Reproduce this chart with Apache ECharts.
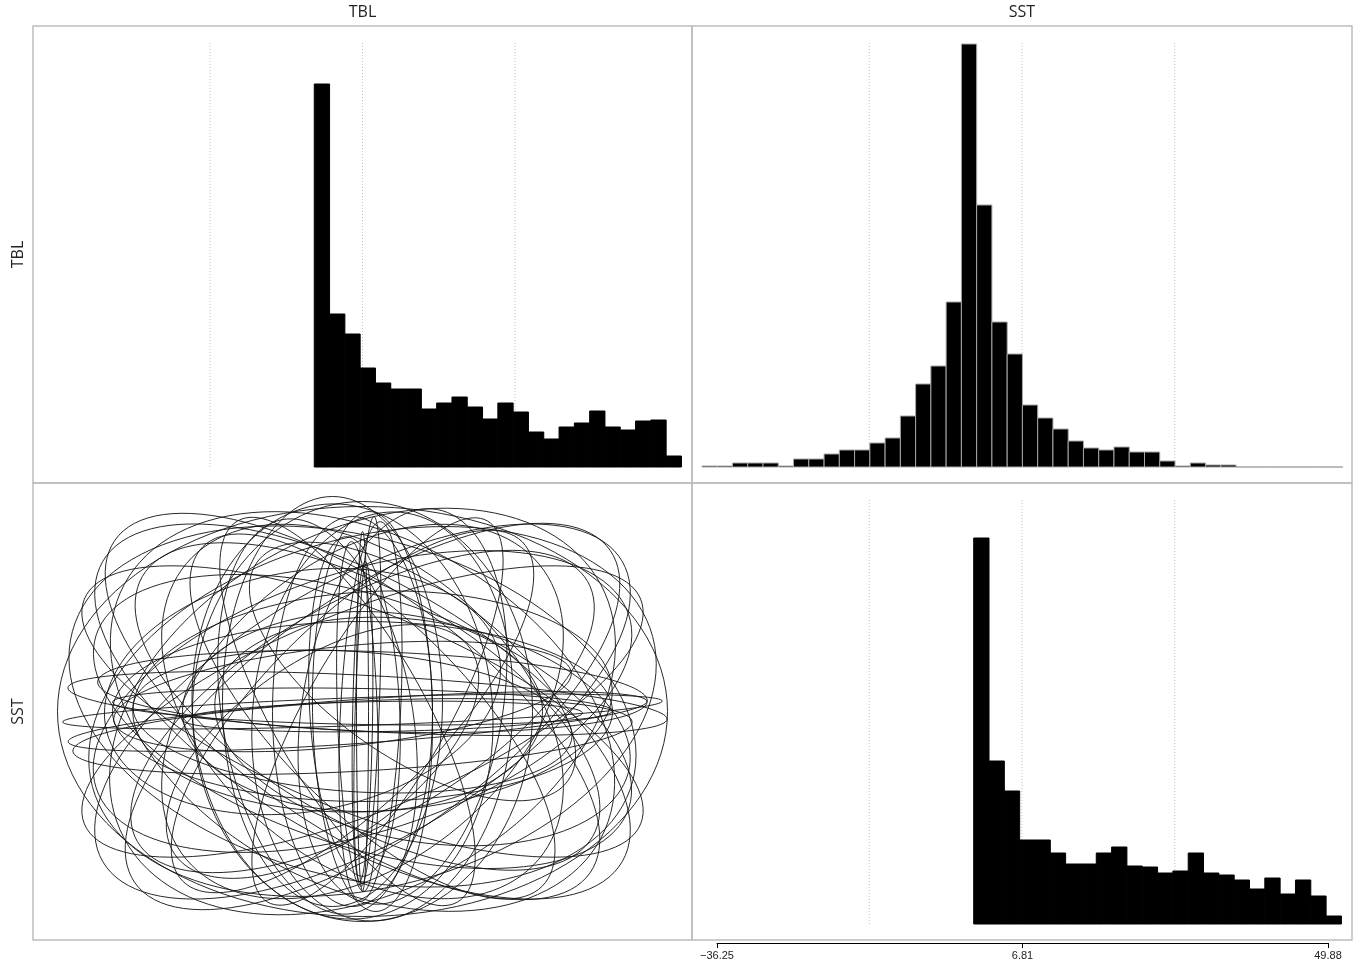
<!DOCTYPE html>
<html><head><meta charset="utf-8">
<script src="https://cdn.jsdelivr.net/npm/echarts@6/dist/echarts.min.js"></script>
<style>html,body{margin:0;padding:0;background:#fff}#c{width:1360px;height:969px}</style>
</head><body><div id="c"></div><script>
// ---- data ----
const variables = ['TBL', 'SST'];
// histogram of TBL (diagonal, top-left)
const tblBinStart = 0, tblBinWidth = 2.16;
const tblCounts = [383, 153, 133, 99, 84, 78, 78, 58, 64, 70, 60, 48, 64, 55, 35, 28, 40, 44, 56, 40, 37, 46, 47, 11];
// histogram of SST (diagonal, bottom-right)
const sstBinStart = 0, sstBinWidth = 2.16;
const sstCounts = [386, 163, 133, 84, 84, 71, 60, 60, 71, 77, 58, 57, 51, 53, 71, 51, 49, 44, 35, 46, 30, 44, 28, 8];
// histogram in the upper off-diagonal panel
const diffBinStart = -38.30, diffBinWidth = 2.151;
const diffCounts = [1, 1, 4, 4, 4, 1, 8, 8, 13, 17, 17, 24, 29, 51, 83, 101, 165, 423, 262, 145, 113, 62, 49, 38, 26, 19, 17, 20, 15, 15, 6, 1, 4, 2, 2, 0, 0, 0, 0, 0, 0, 0];
// dotted reference lines
const refLineValues = [-14.72, 6.81, 28.345];
const refLineTop = 424;
// bottom axis ticks
const tickValues = [-36.25, 6.81, 49.88];
const tickLabels = ['\u221236.25', '6.81', '49.88'];
// ellipses in the lower off-diagonal panel: centre, semi-axes, rotation (deg)
const ellCx    = [0, 5, -5, 10, -10, 0, 20, -20,   0, 5, -5, 8, -8, 0, 10, -10,   -30, 20, -20, 40, -45, 0,   0, 5, -10, 10, 0, 0, 15, -15, 0, 0,   0, 0, 0, 10, -10, 10, -10, 0, 0, 0, 0,   0, 10, -10, 0,   -60, 60, -40, 50];
const ellCy    = [0, 8, -10, 20, -25, 5, -5, 15,   0, 10, -5, 0, 5, -10, 0, 0,   10, -5, 0, 5, -5, 0,   0, 5, 0, -5, 10, -10, 0, 0, 0, 0,   0, 0, 0, -5, 5, 0, 5, 0, 0, 0, 0,   0, 10, -10, 0,   20, -20, -40, 40];
const ellA     = [300, 300, 290, 275, 280, 250, 200, 230,   180, 185, 175, 190, 170, 160, 200, 195,   205, 205, 208, 200, 200, 210,   260, 260, 240, 240, 280, 280, 220, 220, 230, 230,   305, 300, 300, 290, 290, 290, 290, 270, 270, 300, 300,   250, 240, 220, 180,   200, 210, 180, 190];
const ellB     = [14, 28, 22, 40, 35, 18, 15, 50,   6, 12, 20, 30, 45, 10, 60, 80,   110, 130, 150, 100, 95, 170,   110, 115, 90, 95, 130, 125, 70, 75, 150, 150,   205, 130, 130, 120, 120, 175, 170, 180, 175, 100, 100,   90, 110, 70, 100,   120, 110, 90, 85];
const ellAngle = [2, -3, 4, -2, 3, -1, 1, 6,   90, 88, 92, 87, 93, 89, 91, 90,   90, 85, 95, 80, 100, 90,   30, -30, 45, -45, 18, -18, 60, -60, 40, -40,   0, 30, -30, 35, -35, 15, -15, 28, -28, 22, -22,   0, 3, -4, 0,   10, -10, 35, -35];

// ---- helpers ----
const colMin = -39.71, colMax = 53.33;
const frameColor = '#bdbdbd';
function bins(start, width, counts) { return counts.map((c, i) => [start + i * width, start + (i + 1) * width, c]); }
function histSeries(idx, data, stroke, lw) {
  return {
    type: 'custom', xAxisIndex: idx, yAxisIndex: idx, data, z: 3, silent: true,
    encode: { x: [0, 1], y: 2 },
    renderItem(params, api) {
      const a = api.coord([api.value(0), 0]);
      const b = api.coord([api.value(1), api.value(2)]);
      return { type: 'rect', shape: { x: a[0], y: b[1], width: b[0] - a[0], height: a[1] - b[1] },
        style: { fill: '#000', stroke: stroke, lineWidth: lw } };
    }
  };
}
function refSeries(idx) {
  return {
    type: 'custom', xAxisIndex: idx, yAxisIndex: idx, z: 1, silent: true,
    data: refLineValues.map(v => [v, refLineTop]), encode: { x: 0, y: 1 },
    renderItem(params, api) {
      const a = api.coord([api.value(0), 0]);
      const b = api.coord([api.value(0), api.value(1)]);
      return { type: 'line', shape: { x1: a[0], y1: a[1], x2: b[0], y2: b[1] },
        style: { stroke: '#c2c2c2', lineWidth: 1, lineDash: [1, 2] } };
    }
  };
}
const ellData = ellCx.map((c, i) => [c, ellCy[i], ellA[i], ellB[i], ellAngle[i]]);

const grids = [
  { left: 33, top: 26, width: 659, height: 457 },
  { left: 692, top: 26, width: 660, height: 457 },
  { left: 33, top: 483, width: 659, height: 457 },
  { left: 692, top: 483, width: 660, height: 457 },
  { left: 717, top: 903, width: 611, height: 40 }
].map((g, i) => Object.assign({ show: i < 4, borderColor: frameColor, borderWidth: 1.5, backgroundColor: 'transparent' }, g));

const hidden = { show: false };
const xAxes = [
  Object.assign({ gridIndex: 0, type: 'value', min: colMin, max: colMax }, hidden),
  Object.assign({ gridIndex: 1, type: 'value', min: colMin, max: colMax }, hidden),
  Object.assign({ gridIndex: 2, type: 'value', min: -329.5, max: 329.5 }, hidden),
  Object.assign({ gridIndex: 3, type: 'value', min: colMin, max: colMax }, hidden),
  { gridIndex: 4, type: 'value', min: tickValues[0], max: tickValues[2], position: 'bottom',
    axisLine: { show: true, lineStyle: { color: '#000', width: 1 } },
    axisTick: { show: true, length: 5, customValues: tickValues, lineStyle: { color: '#000' } },
    axisLabel: { show: true, customValues: tickValues, fontSize: 11, color: '#222', margin: 7,
      fontFamily: 'Liberation Sans',
      formatter: v => { const i = tickValues.findIndex(t => Math.abs(t - v) < 1e-6); return i >= 0 ? tickLabels[i] : ''; } },
    splitLine: { show: false } }
];
const yAxes = [
  Object.assign({ gridIndex: 0, type: 'value', min: -16, max: 441 }, hidden),
  Object.assign({ gridIndex: 1, type: 'value', min: -16, max: 441 }, hidden),
  Object.assign({ gridIndex: 2, type: 'value', min: -228.5, max: 228.5 }, hidden),
  Object.assign({ gridIndex: 3, type: 'value', min: -16, max: 441 }, hidden),
  Object.assign({ gridIndex: 4, type: 'value', min: 0, max: 1 }, hidden)
];

const series = [
  refSeries(0), refSeries(1), refSeries(3),
  histSeries(0, bins(tblBinStart, tblBinWidth, tblCounts), '#000', 1),
  histSeries(3, bins(sstBinStart, sstBinWidth, sstCounts), '#000', 1),
  histSeries(1, bins(diffBinStart, diffBinWidth, diffCounts), '#a6a6a6', 1),
  {
    type: 'custom', xAxisIndex: 2, yAxisIndex: 2, data: ellData, z: 2, silent: true,
    encode: { x: 0, y: 1 },
    renderItem(params, api) {
      const cx = api.value(0), cy = api.value(1), a = api.value(2), b = api.value(3);
      const th = api.value(4) * Math.PI / 180;
      const pts = [];
      const N = 120;
      for (let k = 0; k < N; k++) {
        const t = 2 * Math.PI * k / N;
        const x = cx + a * Math.cos(th) * Math.cos(t) - b * Math.sin(th) * Math.sin(t);
        const y = cy + a * Math.sin(th) * Math.cos(t) + b * Math.cos(th) * Math.sin(t);
        pts.push(api.coord([x, y]));
      }
      return { type: 'polygon', shape: { points: pts }, style: { fill: 'none', stroke: '#111', lineWidth: 0.9 } };
    }
  },
  { type: 'line', xAxisIndex: 4, yAxisIndex: 4, data: [], silent: true }
];

const textStyle = { font: '16px "Open Sans", "Noto Sans", sans-serif', fill: '#222', textAlign: 'center', textVerticalAlign: 'middle' };
const graphic = [
  { type: 'text', x: 362.5, y: 12, style: Object.assign({ text: variables[0] }, textStyle) },
  { type: 'text', x: 1022, y: 12, style: Object.assign({ text: variables[1] }, textStyle) },
  { type: 'text', x: 18, y: 254.5, rotation: Math.PI / 2, style: Object.assign({ text: variables[0] }, textStyle) },
  { type: 'text', x: 18, y: 711.5, rotation: Math.PI / 2, style: Object.assign({ text: variables[1] }, textStyle) }
];

const chart = echarts.init(document.getElementById('c'), null, { renderer: 'canvas' });
chart.setOption({ animation: false, backgroundColor: '#fff', grid: grids, xAxis: xAxes, yAxis: yAxes, series, graphic });
</script></body></html>
